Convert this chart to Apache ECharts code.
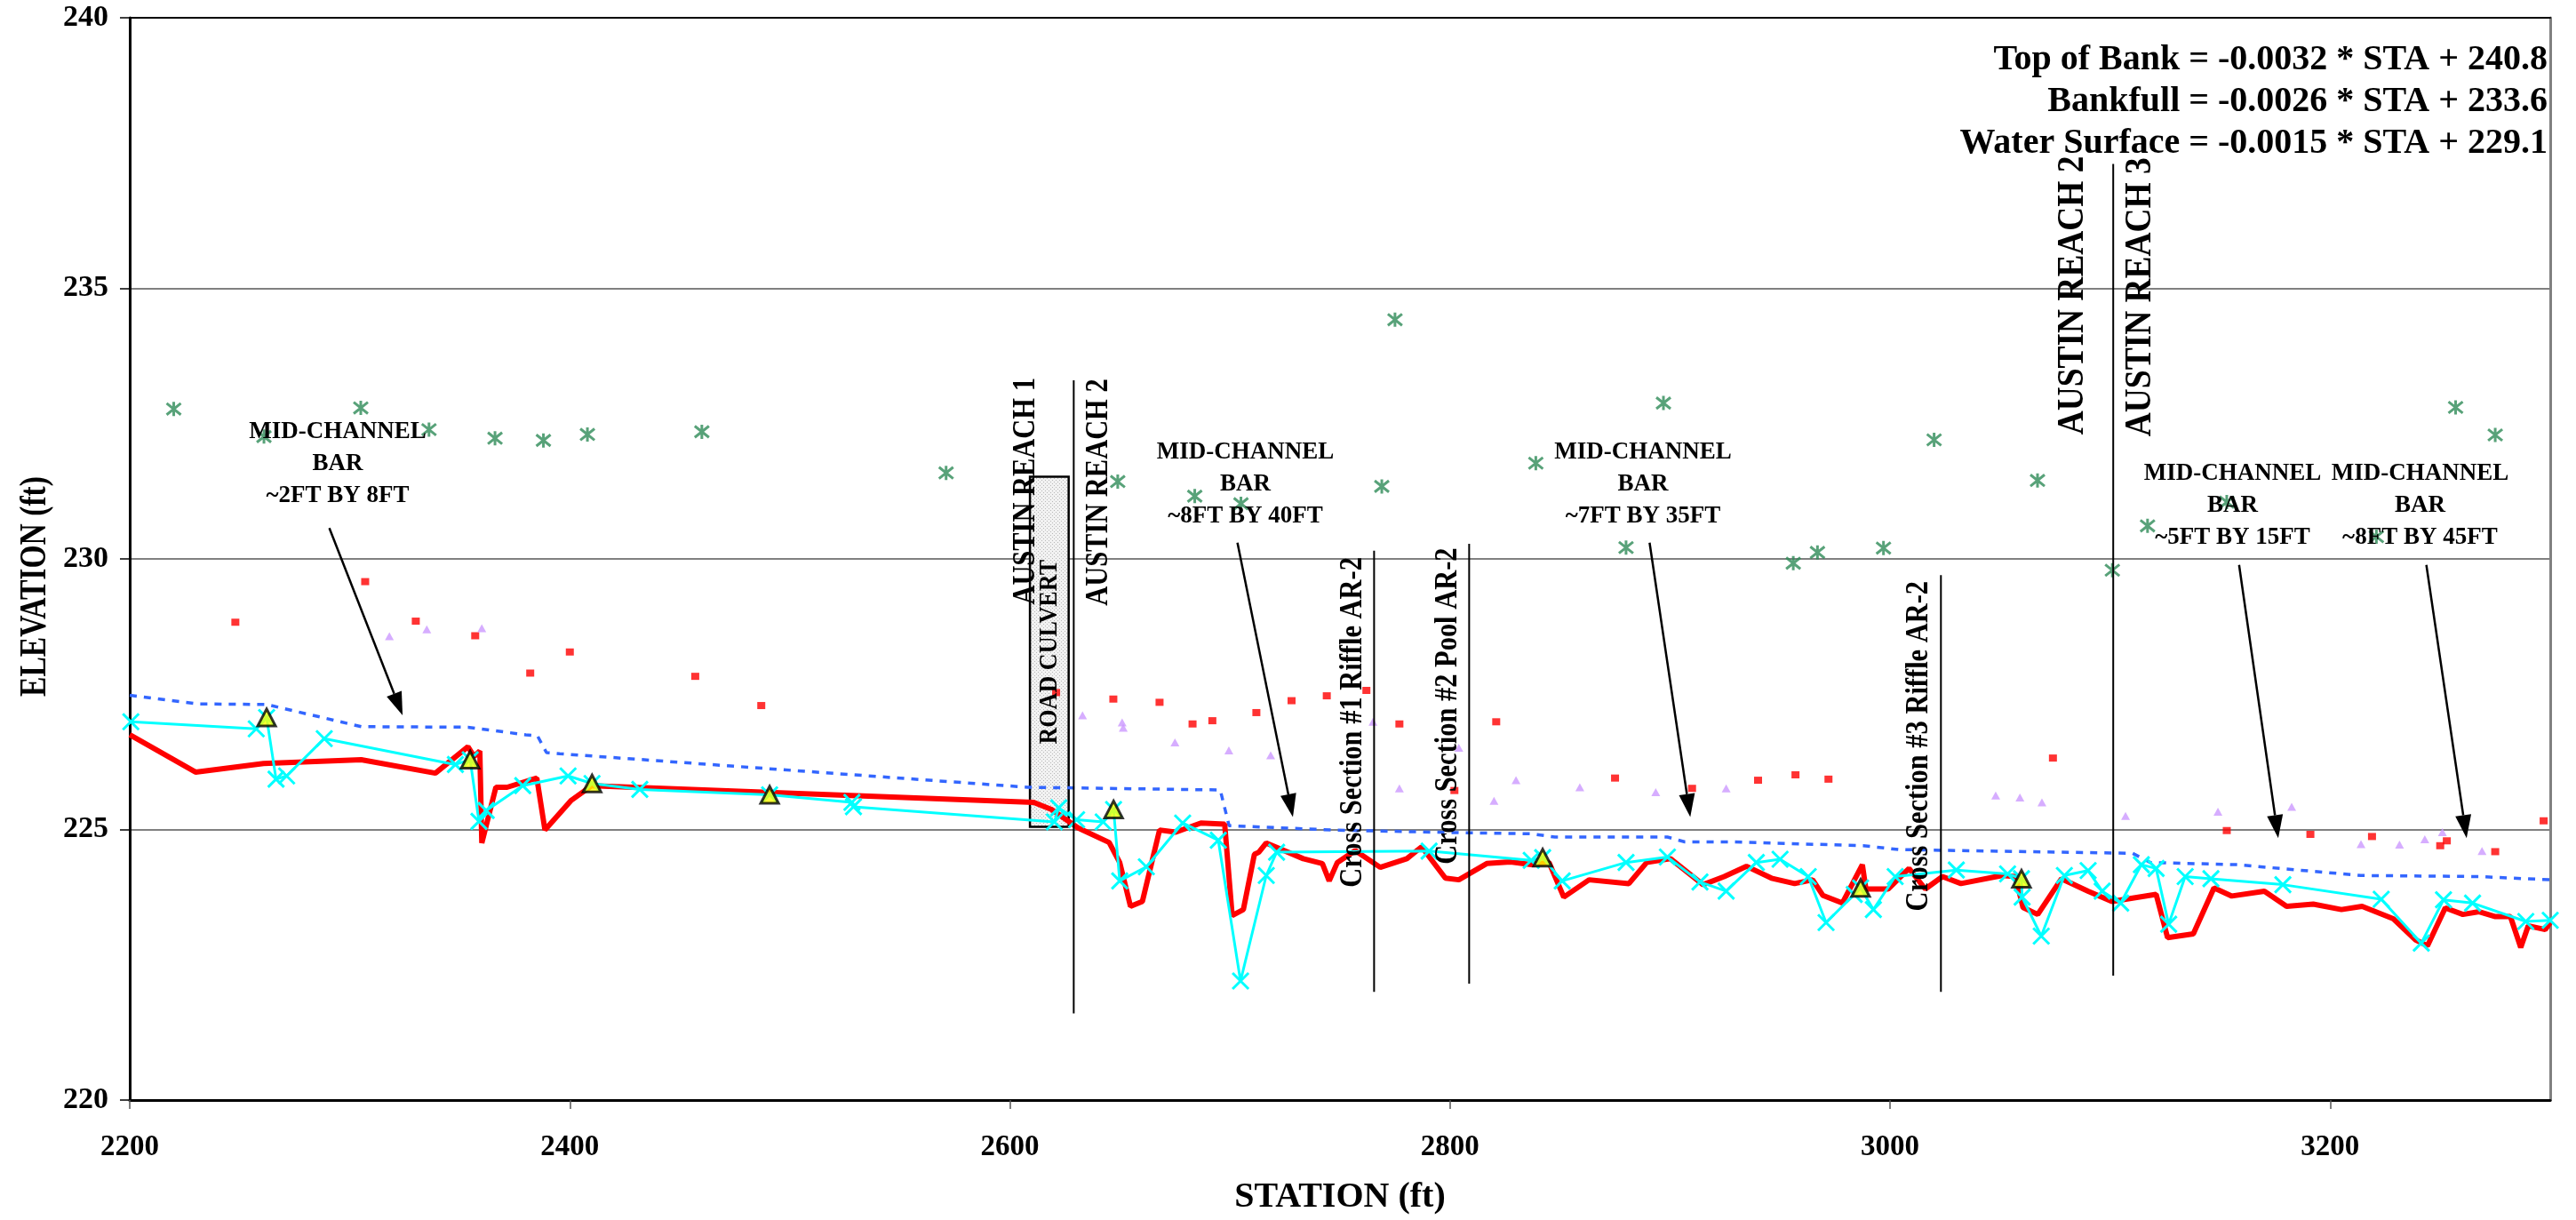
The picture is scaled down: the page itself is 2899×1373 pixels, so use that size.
<!DOCTYPE html>
<html>
<head>
<meta charset="utf-8">
<script src="https://cdn.jsdelivr.net/npm/echarts@6/dist/echarts.min.js"></script>
<style>
html, body { margin: 0; padding: 0; background: #fff; }
#chart { width: 2899px; height: 1373px; }
</style>
</head>
<body>
<div id="chart"></div>
<script>
// 纵断面数据 (station ft, elevation ft)
var thalweg = [
    [2200, 226.75], [2229.9, 226.06], [2260.8, 226.22], [2305.2, 226.29], [2338.9, 226.04],
    [2353.7, 226.53], [2356.5, 226.35], [2359.1, 226.45], [2360.0, 224.75], [2366.4, 225.78],
    [2371.5, 225.78], [2385.0, 225.95], [2388.7, 224.99], [2400.7, 225.54], [2410.0, 225.81],
    [2610.8, 225.50], [2618.9, 225.37], [2631.0, 225.03], [2645.1, 224.76], [2649.9, 224.39],
    [2654.8, 223.58], [2660.2, 223.67], [2668.0, 224.99], [2675.4, 224.95], [2686.8, 225.12],
    [2697.6, 225.10], [2701.0, 223.41], [2706.1, 223.52], [2711.1, 224.54], [2713.1, 224.58],
    [2716.5, 224.75], [2733.3, 224.46], [2742.0, 224.37], [2745.1, 224.05], [2748.8, 224.39],
    [2756.9, 224.61], [2768.3, 224.30], [2780.4, 224.46], [2787.1, 224.68], [2797.9, 224.10],
    [2804.0, 224.07], [2816.7, 224.37], [2827.5, 224.40], [2836.9, 224.35], [2845.0, 224.39],
    [2851.7, 223.75], [2863.2, 224.07], [2881.3, 224.00], [2889.4, 224.39], [2900.2, 224.46],
    [2915.0, 223.98], [2924.6, 224.13], [2934.7, 224.32], [2946.1, 224.10], [2956.6, 224.00],
    [2964.8, 224.07], [2969.5, 223.78], [2978.3, 223.64], [2987.4, 224.35], [2989.0, 223.90],
    [2999.1, 223.90], [3008.6, 224.28], [3016.0, 223.90], [3023.8, 224.13], [3032.2, 224.00],
    [3051.0, 224.15], [3057.0, 224.13], [3060.4, 223.56], [3067.1, 223.43], [3077.9, 224.09],
    [3090.0, 223.86], [3100.8, 223.67], [3120.9, 223.80], [3126.1, 223.00], [3137.8, 223.07],
    [3147.2, 223.92], [3155.3, 223.77], [3170.1, 223.86], [3180.2, 223.58], [3192.3, 223.62],
    [3205.1, 223.52], [3214.5, 223.58], [3228.7, 223.35], [3238.8, 222.96], [3244.2, 222.85],
    [3252.3, 223.55], [3260.3, 223.43], [3267.7, 223.48], [3275.1, 223.39], [3281.9, 223.39],
    [3286.6, 222.82], [3290.0, 223.22], [3297.7, 223.15], [3300, 223.28]
];

var waterSurface = [
    [2200.5, 226.99], [2257.5, 226.86], [2262.2, 227.07], [2266.5, 225.93], [2271.3, 225.99],
    [2288.4, 226.68], [2348.0, 226.20], [2354.7, 226.29], [2358.7, 225.15], [2362.0, 225.35],
    [2378.6, 225.81], [2399.2, 225.99], [2410.1, 225.85], [2431.8, 225.74], [2490.8, 225.64],
    [2528.2, 225.50], [2528.9, 225.42], [2620.2, 225.14], [2622.2, 225.40], [2630.3, 225.18],
    [2642.4, 225.14], [2647.1, 225.37], [2649.9, 224.05], [2662.0, 224.31], [2678.5, 225.12],
    [2694.7, 224.80], [2704.8, 222.20], [2716.5, 224.15], [2721.2, 224.58], [2790.5, 224.60],
    [2836.9, 224.43], [2842.1, 224.48], [2851.0, 224.05], [2880.0, 224.39], [2898.8, 224.49],
    [2913.6, 224.03], [2925.5, 223.86], [2939.2, 224.39], [2950.0, 224.45], [2962.8, 224.13],
    [2970.9, 223.28], [2983.7, 223.80], [2986.6, 223.92], [2992.4, 223.52], [3002.3, 224.13],
    [3030.1, 224.25], [3053.4, 224.18], [3059.7, 224.09], [3060.0, 223.75], [3068.7, 223.03],
    [3079.2, 224.15], [3090.0, 224.24], [3096.4, 223.86], [3104.8, 223.64], [3114.2, 224.35],
    [3120.9, 224.28], [3126.6, 223.25], [3134.1, 224.13], [3145.8, 224.09], [3178.5, 223.98],
    [3223.2, 223.71], [3241.4, 222.90], [3251.5, 223.70], [3264.7, 223.64], [3288.9, 223.30],
    [3300, 223.32]
];

var priorSurface = [
    [2200, 227.48], [2231, 227.32], [2262.2, 227.31], [2305.2, 226.90], [2353.7, 226.89],
    [2380, 226.75], [2385.3, 226.73], [2389.4, 226.42], [2395.4, 226.40], [2608.1, 225.78],
    [2695.6, 225.73], [2699.6, 225.07], [2746.8, 224.99], [2805.9, 224.94], [2836.9, 224.92],
    [2847.7, 224.86], [2898.8, 224.86], [2906.8, 224.77], [2928.4, 224.77], [2987.7, 224.70],
    [3003.8, 224.63], [3045.5, 224.60], [3110.2, 224.56], [3118.2, 224.39], [3157.4, 224.35],
    [3213.9, 224.15], [3267.7, 224.13], [3300, 224.07]
];

var topOfBank = [
    [2220, 232.77], [2261, 232.26], [2305, 232.79], [2336, 232.39], [2366, 232.23],
    [2388, 232.19], [2408, 232.30], [2460, 232.35], [2571, 231.59], [2649, 231.43],
    [2684, 231.16], [2705, 231.02], [2769, 231.34], [2775, 234.42], [2839, 231.77],
    [2880, 230.21], [2897, 232.88], [2956, 229.92], [2967, 230.12], [2997, 230.20],
    [3020, 232.20], [3067, 231.45], [3101, 229.79], [3117, 230.61], [3153, 231.05],
    [3221, 230.41], [3257, 232.80], [3275, 232.29]
];

var bankfull = [
    [2248, 228.83], [2307, 229.58], [2330, 228.85], [2357, 228.58], [2382, 227.89],
    [2400, 228.28], [2457, 227.83], [2487, 227.29], [2621, 227.53], [2647, 227.41],
    [2668, 227.35], [2683, 226.95], [2692, 227.01], [2712, 227.16], [2728, 227.38],
    [2744, 227.47], [2762, 227.57], [2777, 226.95], [2821, 226.99], [2802, 225.72],
    [2875, 225.95], [2910, 225.76], [2940, 225.91], [2957, 226.01], [2972, 225.93],
    [3074, 226.32], [3153, 224.98], [3191, 224.91], [3219, 224.87], [3250, 224.70],
    [3253, 224.79], [3275, 224.59], [3297, 225.16]
];

var edgeOfWater = [
    [2318, 228.57], [2335, 228.70], [2360, 228.72], [2633, 227.11], [2651, 226.98],
    [2651.5, 226.88], [2675, 226.61], [2699.5, 226.46], [2718.5, 226.37], [2765, 226.99],
    [2777, 225.76], [2804, 226.51], [2820, 225.53], [2830, 225.91], [2859, 225.78],
    [2893.5, 225.69], [2925.5, 225.76], [3048, 225.63], [3059, 225.59], [3069, 225.50],
    [3107, 225.25], [3149, 225.33], [3182.5, 225.42], [3214, 224.73], [3231.5, 224.72],
    [3243, 224.82], [3251, 224.95], [3269, 224.60]
];

var surveyPoints = [
    [2262.2, 227.07], [2354.7, 226.29], [2410.1, 225.85], [2490.8, 225.64],
    [2647.1, 225.37], [2842.1, 224.48], [2986.6, 223.92], [3059.7, 224.09]
];

// 分界线 [station, 上端, 下端]
var dividerLines = [
    [2629, 233.3, 221.6], [2765.5, 230.15, 222.0], [2808.7, 230.28, 222.15],
    [3023.1, 229.7, 222.0], [3101.4, 237.3, 222.3]
];

var verticalNotes = [
    'AUSTIN REACH 1', 'ROAD CULVERT', 'AUSTIN REACH 2', 'Cross Section #1 Riffle AR-2',
    'Cross Section #2 Pool AR-2', 'Cross Section #3 Riffle AR-2', 'AUSTIN REACH 2', 'AUSTIN REACH 3'
];
var verticalNoteAt = [
    [2607.5, 231.25], [2618.2, 228.28], [2640.4, 231.23], [2756.2, 226.98],
    [2799.4, 227.28], [3013.3, 226.54], [3083.1, 234.87], [3113.8, 234.84]
];

var culvert = [[2609.1, 225.05, 2626.7, 231.52]];

var barNotes = ['~2FT BY 8FT', '~8FT BY 40FT', '~7FT BY 35FT', '~5FT BY 15FT', '~8FT BY 45FT'];
var barNoteAt = [[2294.5, 231.75], [2707, 231.38], [2887.7, 231.38], [3155.6, 230.98], [3240.8, 230.98]];
// 箭头 [起点sta, 起点elev, 终点sta, 终点elev]
var barArrows = [
    [2290.7, 230.57, 2324.0, 227.11], [2703.4, 230.30, 2728.6, 225.23],
    [2890.7, 230.30, 2909.2, 225.23], [3158.6, 229.89, 3176.4, 224.84],
    [3243.7, 229.89, 3262.0, 224.84]
];

var equations = [
    'Top of Bank = -0.0032 * STA + 240.8',
    'Bankfull = -0.0026 * STA + 233.6',
    'Water Surface = -0.0015 * STA + 229.1'
];

var serif = '"Liberation Serif", "Times New Roman", serif';

// 竖排文字字号: 涵洞较小, 右上两个较大
function noteFontSize(i) {
    if (verticalNotes[i] === 'ROAD CULVERT') return 30;
    if (i >= 6) return 43;
    return 35;
}

// 涵洞填充纹理
var pat = document.createElement('canvas');
pat.width = 4;
pat.height = 4;
var pctx = pat.getContext('2d');
pctx.fillStyle = '#f2f2f2';
pctx.fillRect(0, 0, 4, 4);
pctx.fillStyle = '#b8b8b8';
pctx.fillRect(0, 0, 1, 1);
pctx.fillRect(2, 2, 1, 1);

var chart = echarts.init(document.getElementById('chart'));

var eqGraphics = equations.map(function(t, i) {
    return {
        type: 'text',
        right: 32,
        top: 48 + i * 47,
        style: {
            text: t,
            font: 'bold 40px ' + serif,
            fill: '#000',
            lineHeight: 40
        }
    };
});

var option = {
    backgroundColor: '#fff',
    animation: false,
    grid: { left: 146, right: 29, top: 20, bottom: 134 },
    graphic: eqGraphics.concat([{
        type: 'text',
        x: 40,
        y: 660,
        rotation: Math.PI / 2,
        scaleX: 0.8,
        style: {
            text: 'ELEVATION (ft)',
            font: 'bold 42px ' + serif,
            fill: '#000',
            align: 'center',
            verticalAlign: 'middle'
        }
    }]),
    xAxis: [{
        type: 'value',
        min: 2200,
        max: 3300,
        interval: 200,
        name: 'STATION (ft)',
        nameLocation: 'middle',
        nameGap: 90,
        nameTextStyle: { fontFamily: serif, fontWeight: 'bold', fontSize: 40, color: '#000' },
        axisLine: { lineStyle: { color: '#000', width: 3 } },
        axisTick: { length: 10, lineStyle: { color: '#555', width: 1.5 } },
        axisLabel: {
            fontFamily: serif, fontWeight: 'bold', fontSize: 33, color: '#000', margin: 37,
            showMaxLabel: false,
            formatter: function(v) { return String(v); }
        },
        splitLine: { show: false }
    }, {
        type: 'value',
        position: 'top',
        min: 2200,
        max: 3300,
        axisLine: { show: true, lineStyle: { color: '#000', width: 2 } },
        axisTick: { show: false },
        axisLabel: { show: false },
        splitLine: { show: false }
    }],
    yAxis: [{
        type: 'value',
        min: 220,
        max: 240,
        interval: 5,
        axisLine: { show: true, lineStyle: { color: '#000', width: 3 } },
        axisTick: { show: true, length: 11, lineStyle: { color: '#000', width: 1.5 } },
        axisLabel: { fontFamily: serif, fontWeight: 'bold', fontSize: 34, color: '#000', margin: 24 },
        splitLine: { show: true, lineStyle: { color: '#808080', width: 2 } }
    }, {
        type: 'value',
        position: 'right',
        min: 220,
        max: 240,
        axisLine: { show: true, lineStyle: { color: '#808080', width: 3 } },
        axisTick: { show: false },
        axisLabel: { show: false },
        splitLine: { show: false }
    }],
    series: [{
        // 涵洞
        type: 'custom',
        data: culvert,
        encode: { x: [0, 2], y: [1, 3] },
        z: 1,
        renderItem: function(params, api) {
            var p1 = api.coord([api.value(0), api.value(3)]);
            var p2 = api.coord([api.value(2), api.value(1)]);
            return {
                type: 'rect',
                shape: { x: p1[0], y: p1[1], width: p2[0] - p1[0], height: p2[1] - p1[1] },
                style: { fill: { image: pat, repeat: 'repeat' }, stroke: '#000', lineWidth: 2.5 }
            };
        }
    }, {
        type: 'line',
        data: priorSurface,
        symbol: 'none',
        z: 2,
        lineStyle: { color: '#3366FF', width: 3.5, type: [8, 8] }
    }, {
        type: 'line',
        data: thalweg,
        symbol: 'none',
        z: 3,
        lineStyle: { color: '#FF0000', width: 6 }
    }, {
        type: 'line',
        data: waterSurface,
        symbol: 'path://M0,0L10,10M10,0L0,10',
        symbolSize: 18,
        z: 4,
        itemStyle: { color: 'rgba(0,0,0,0)', borderColor: '#00FFFF', borderWidth: 3 },
        lineStyle: { color: '#00FFFF', width: 3 }
    }, {
        type: 'scatter',
        data: topOfBank,
        symbol: 'path://M5,0L5,10M1,1L9,9M9,1L1,9',
        symbolSize: 16,
        z: 5,
        itemStyle: { color: 'rgba(0,0,0,0)', borderColor: '#2E8B57', borderWidth: 3 }
    }, {
        type: 'scatter',
        data: bankfull,
        symbol: 'rect',
        symbolSize: [9, 8],
        z: 5,
        itemStyle: { color: '#FF0000' }
    }, {
        type: 'scatter',
        data: edgeOfWater,
        symbol: 'triangle',
        symbolSize: [10, 9],
        z: 5,
        itemStyle: { color: '#CC99FF' }
    }, {
        type: 'scatter',
        data: surveyPoints,
        symbol: 'triangle',
        symbolSize: [20, 19],
        z: 6,
        itemStyle: { color: '#FFFF00', borderColor: '#000', borderWidth: 3 }
    }, {
        // 分界线
        type: 'custom',
        data: dividerLines,
        encode: { x: 0, y: [1, 2] },
        z: 7,
        renderItem: function(params, api) {
            var p1 = api.coord([api.value(0), api.value(1)]);
            var p2 = api.coord([api.value(0), api.value(2)]);
            return {
                type: 'line',
                shape: { x1: p1[0], y1: p1[1], x2: p2[0], y2: p2[1] },
                style: { stroke: '#000', lineWidth: 2 }
            };
        }
    }, {
        // 竖排文字
        type: 'custom',
        data: verticalNoteAt,
        encode: { x: 0, y: 1 },
        z: 8,
        renderItem: function(params, api) {
            var p = api.coord([api.value(0), api.value(1)]);
            return {
                type: 'text',
                x: p[0],
                y: p[1],
                rotation: Math.PI / 2,
                scaleX: 0.87,
                style: {
                    text: verticalNotes[params.dataIndex],
                    font: 'bold ' + noteFontSize(params.dataIndex) + 'px ' + serif,
                    fill: '#000',
                    align: 'center',
                    verticalAlign: 'middle'
                }
            };
        }
    }, {
        // MID-CHANNEL BAR 说明
        type: 'custom',
        data: barNoteAt,
        encode: { x: 0, y: 1 },
        z: 8,
        renderItem: function(params, api) {
            var p = api.coord([api.value(0), api.value(1)]);
            return {
                type: 'text',
                x: p[0],
                y: p[1],
                style: {
                    text: 'MID-CHANNEL\nBAR\n' + barNotes[params.dataIndex],
                    font: 'bold 27px ' + serif,
                    fill: '#000',
                    align: 'center',
                    verticalAlign: 'middle',
                    lineHeight: 36
                }
            };
        }
    }, {
        // 箭头
        type: 'custom',
        data: barArrows,
        encode: { x: [0, 2], y: [1, 3] },
        z: 8,
        renderItem: function(params, api) {
            var a = api.coord([api.value(0), api.value(1)]);
            var b = api.coord([api.value(2), api.value(3)]);
            var ang = Math.atan2(b[1] - a[1], b[0] - a[0]);
            var len = 26, half = 9;
            var bx = b[0] - len * Math.cos(ang),
                by = b[1] - len * Math.sin(ang);
            var px = -Math.sin(ang) * half,
                py = Math.cos(ang) * half;
            return {
                type: 'group',
                children: [{
                    type: 'line',
                    shape: { x1: a[0], y1: a[1], x2: bx, y2: by },
                    style: { stroke: '#000', lineWidth: 2.5 }
                }, {
                    type: 'polygon',
                    shape: { points: [[b[0], b[1]], [bx + px, by + py], [bx - px, by - py]] },
                    style: { fill: '#000' }
                }]
            };
        }
    }]
};

chart.setOption(option);
</script>
</body>
</html>
